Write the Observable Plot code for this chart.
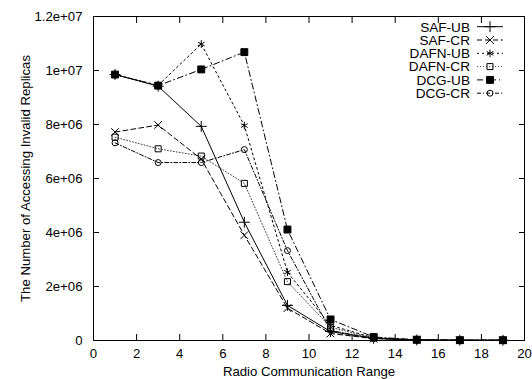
<!DOCTYPE html>
<html><head><meta charset="utf-8">
<script src="https://cdn.jsdelivr.net/npm/d3@7"></script>
<script src="https://cdn.jsdelivr.net/npm/@observablehq/plot@0.6"></script>
<style>
body{margin:0;background:#fff;}
#wrap{position:relative;width:532px;height:379px;font-family:"Liberation Sans",Arial,Helvetica,sans-serif;}
#legend{position:absolute;left:0;top:0;pointer-events:none;}
</style></head><body><div id="wrap"></div>
<script>
// ---- data ----
const xs = [1, 3, 5, 7, 9, 11, 13, 15, 17, 19];
const seriesNames = ["SAF-UB", "SAF-CR", "DAFN-UB", "DAFN-CR", "DCG-UB", "DCG-CR"];
const safUB  = [9.85e6, 9.42e6, 7.93e6, 4.38e6, 1.30e6, 0.33e6, 0.08e6, 0.02e6, 0.01e6, 0.01e6];
const safCR  = [7.72e6, 7.98e6, 6.72e6, 3.90e6, 1.20e6, 0.26e6, 0.07e6, 0.02e6, 0.01e6, 0.01e6];
const dafnUB = [9.85e6, 9.45e6, 10.98e6, 7.96e6, 2.53e6, 0.56e6, 0.10e6, 0.02e6, 0.01e6, 0.01e6];
const dafnCR = [7.53e6, 7.10e6, 6.83e6, 5.82e6, 2.18e6, 0.49e6, 0.09e6, 0.02e6, 0.01e6, 0.01e6];
const dcgUB  = [9.85e6, 9.44e6, 10.04e6, 10.68e6, 4.11e6, 0.78e6, 0.13e6, 0.03e6, 0.01e6, 0.01e6];
const dcgCR  = [7.32e6, 6.59e6, 6.59e6, 7.07e6, 3.33e6, 0.37e6, 0.08e6, 0.02e6, 0.01e6, 0.01e6];
const seriesValues = [safUB, safCR, dafnUB, dafnCR, dcgUB, dcgCR];
const xTicks = [0, 2, 4, 6, 8, 10, 12, 14, 16, 18, 20];
const yTicks = [0, 2e6, 4e6, 6e6, 8e6, 10e6, 12e6];
const yTickLabels = ["0", "2e+06", "4e+06", "6e+06", "8e+06", "1e+07", "1.2e+07"];
const xTitle = "Radio Communication Range";
const yTitle = "The Number of Accessing Invalid Replicas";

// ---- styles ----
const styles = [
  {dash: null,            stroke: "#000", symbol: "plus",     fill: "none", r: 3.6},
  {dash: "5,3",           stroke: "#000", symbol: "times",    fill: "none", r: 3.6},
  {dash: "2,3",           stroke: "#000", symbol: "asterisk", fill: "none", r: 3.6},
  {dash: "1,2",           stroke: "#444", symbol: "square",   fill: "none", r: 3.4},
  {dash: "6,3,1,3",       stroke: "#000", symbol: "square",   fill: "#000", r: 3.9},
  {dash: "4,2,1,2",       stroke: "#000", symbol: "circle",   fill: "none", r: 3}
];

const data = seriesNames.map((name, i) => xs.map((x, j) => ({series: name, x, y: seriesValues[i][j]})));

const marks = [];
// inward ticks on all four sides
marks.push(Plot.axisX(xTicks, {anchor: "bottom", tickSize: -6, tickFormat: () => "", label: null}));
marks.push(Plot.axisX(xTicks, {anchor: "top", tickSize: -6, tickFormat: () => "", label: null}));
marks.push(Plot.axisY(yTicks, {anchor: "left", tickSize: -6, tickFormat: () => "", label: null}));
marks.push(Plot.axisY(yTicks, {anchor: "right", tickSize: -6, tickFormat: () => "", label: null}));
// labels
marks.push(Plot.axisX(xTicks, {anchor: "bottom", tickSize: 0, tickPadding: 8, fontSize: 13.2,
  label: xTitle, labelAnchor: "center", labelOffset: 35, labelArrow: "none"}));
marks.push(Plot.axisY(yTicks, {anchor: "left", tickSize: 0, tickPadding: 11, fontSize: 13.2,
  tickFormat: d => yTickLabels[yTicks.indexOf(d)],
  label: yTitle, labelAnchor: "center", labelOffset: 73, labelArrow: "none"}));
marks.push(Plot.frame({stroke: "#000", strokeWidth: 1}));

const order = [3, 5, 1, 0, 2, 4];
for (const i of order) {
  const s = styles[i];
  marks.push(Plot.line(data[i], {x: "x", y: "y", stroke: s.stroke, strokeWidth: 1,
    strokeDasharray: s.dash == null ? undefined : s.dash}));
}
for (const i of order) {
  const s = styles[i];
  marks.push(Plot.dot(data[i], {x: "x", y: "y", symbol: () => s.symbol, r: s.r,
    stroke: "#000", strokeWidth: 1, fill: s.fill}));
}

const chart = Plot.plot({
  width: 532, height: 379,
  marginLeft: 93, marginRight: 8, marginTop: 16, marginBottom: 39,
  style: {fontFamily: '"Liberation Sans", Arial, Helvetica, sans-serif', fontSize: "13.2px", color: "#000", background: "#fff"},
  x: {domain: [0, 20], labelArrow: "none"},
  y: {domain: [0, 12e6], labelArrow: "none"},
  symbol: {type: "identity"},
  marks
});
document.getElementById("wrap").appendChild(chart);

// ---- legend (inside plot, top-right) ----
const leg = d3.select("#wrap").append("svg").attr("id", "legend").attr("width", 532).attr("height", 379);
const rowY0 = 26.7, rowStep = 13.3, textRight = 470, lx1 = 477, lx2 = 503;
seriesNames.forEach((name, i) => {
  const s = styles[i];
  const y = rowY0 + i * rowStep;
  leg.append("text").attr("x", textRight).attr("y", y).attr("dy", "0.36em")
    .attr("text-anchor", "end").attr("font-size", 13.6)
    .attr("font-family", '"Liberation Sans", Arial, Helvetica, sans-serif').text(name);
  leg.append("line").attr("x1", lx1).attr("x2", lx2).attr("y1", y).attr("y2", y)
    .attr("stroke", s.stroke).attr("stroke-width", 1)
    .attr("stroke-dasharray", s.dash);
  const sym = {plus: d3.symbolPlus, times: d3.symbolTimes, asterisk: d3.symbolAsterisk, square: d3.symbolSquare, circle: d3.symbolCircle}[s.symbol];
  leg.append("path").attr("transform", `translate(${(lx1 + lx2) / 2},${y})`)
    .attr("d", d3.symbol(sym, Math.PI * s.r * s.r)())
    .attr("fill", s.fill).attr("stroke", "#000").attr("stroke-width", 1);
});
</script>
</body></html>
